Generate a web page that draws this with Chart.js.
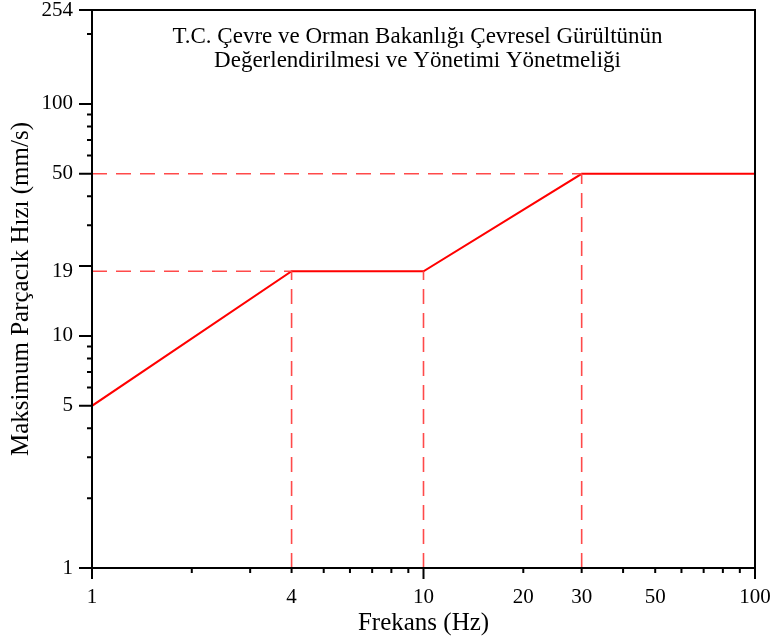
<!DOCTYPE html>
<html>
<head>
<meta charset="utf-8">
<script src="https://cdn.jsdelivr.net/npm/chart.js@4"></script>
<style>
  html, body { margin: 0; padding: 0; background: #fff; }
  canvas { display: block; }
</style>
</head>
<body>
<canvas id="chart" width="772" height="640"></canvas>
<script>
// limit curve (frequency in Hz, velocity in mm/s)
var freq = [1, 4, 10, 30, 100];
var velocity = [5, 19, 19, 50, 50];

// axis ticks
var xTickLabels = [1, 4, 10, 20, 30, 50, 100];
var yTickLabels = [1, 5, 10, 19, 50, 100, 254];
var xLongTicks = [1, 10, 100];
var xShortTicks = [2, 3, 4, 5, 6, 7, 8, 9, 20, 30, 40, 50, 60, 70, 80, 90];
var yLongTicks = [1, 5, 10, 20, 50, 100, 254];
var yShortTicks = [2, 3, 4, 6, 7, 8, 9, 30, 40, 60, 70, 80, 90, 200];

var titleLines = ["T.C. Çevre ve Orman Bakanlığı Çevresel Gürültünün",
                  "Değerlendirilmesi ve Yönetimi Yönetmeliği"];

var serif = "'Liberation Serif', 'Times New Roman', serif";

// dashed guides at the break points of the curve
var guides = [];
[1, 2, 3].forEach(function (i) {
  guides.push([{ x: freq[i], y: 1 }, { x: freq[i], y: velocity[i] }]);
});
[1, 3].forEach(function (i) {
  guides.push([{ x: 1, y: velocity[i] }, { x: freq[i], y: velocity[i] }]);
});

var datasets = guides.map(function (pts) {
  return {
    data: pts,
    borderColor: "#ff4a4a",
    borderWidth: 1.6,
    borderDash: [15, 9],
    pointRadius: 0,
    fill: false
  };
});
datasets.push({
  data: freq.map(function (f, i) { return { x: f, y: velocity[i] }; }),
  borderColor: "#ff0000",
  borderWidth: 2,
  pointRadius: 0,
  fill: false
});

var extras = {
  id: "extras",
  afterDraw: function (chart) {
    var ctx = chart.ctx;
    var a = chart.chartArea;
    var xs = chart.scales.x;
    var ys = chart.scales.y;
    ctx.save();
    ctx.strokeStyle = "#000";
    ctx.lineWidth = 2;
    ctx.strokeRect(a.left, a.top, a.right - a.left, a.bottom - a.top);
    ctx.beginPath();
    xLongTicks.forEach(function (v) {
      var px = xs.getPixelForValue(v);
      ctx.moveTo(px, a.bottom); ctx.lineTo(px, a.bottom + 11);
    });
    xShortTicks.forEach(function (v) {
      var px = xs.getPixelForValue(v);
      ctx.moveTo(px, a.bottom); ctx.lineTo(px, a.bottom + 5);
    });
    yLongTicks.forEach(function (v) {
      var py = ys.getPixelForValue(v);
      ctx.moveTo(a.left, py); ctx.lineTo(a.left - 13, py);
    });
    yShortTicks.forEach(function (v) {
      var py = ys.getPixelForValue(v);
      ctx.moveTo(a.left, py); ctx.lineTo(a.left - 5, py);
    });
    ctx.stroke();

    ctx.fillStyle = "#000";
    ctx.font = "23px " + serif;
    ctx.textAlign = "center";
    ctx.textBaseline = "alphabetic";
    var cx = (a.left + a.right) / 2 - 6;
    ctx.fillText(titleLines[0], cx, a.top + 33);
    ctx.fillText(titleLines[1], cx, a.top + 57);
    ctx.restore();
  }
};

var chart = new Chart(document.getElementById("chart"), {
  type: "line",
  data: { datasets: datasets },
  plugins: [extras],
  options: {
    responsive: false,
    animation: false,
    devicePixelRatio: 1,
    layout: { padding: { left: 0, top: 10, right: 17, bottom: 0 } },
    plugins: {
      legend: { display: false },
      tooltip: { enabled: false }
    },
    scales: {
      x: {
        type: "logarithmic",
        min: 1,
        max: 100,
        border: { display: false },
        grid: { drawOnChartArea: false, tickLength: 13, tickColor: "rgba(0,0,0,0)" },
        ticks: {
          color: "#000",
          padding: 4,
          maxRotation: 0,
          autoSkip: false,
          font: { family: serif, size: 21 },
          callback: function (v) { return String(v); }
        },
        afterBuildTicks: function (scale) {
          scale.ticks = xTickLabels.map(function (v) { return { value: v }; });
        },
        afterFit: function (scale) {
          scale.height = 72;
          scale.paddingLeft = 0;
          scale.paddingRight = 0;
        },
        title: {
          display: true,
          text: "Frekans (Hz)",
          color: "#000",
          font: { family: serif, size: 25 },
          padding: { top: 0, bottom: 2 }
        }
      },
      y: {
        type: "logarithmic",
        min: 1,
        max: 254,
        border: { display: false },
        grid: { drawOnChartArea: false, tickLength: 13, tickColor: "rgba(0,0,0,0)" },
        ticks: {
          color: "#000",
          padding: 6,
          autoSkip: false,
          font: { family: serif, size: 21 },
          callback: function (v) { return String(v); }
        },
        afterBuildTicks: function (scale) {
          scale.ticks = yTickLabels.map(function (v) { return { value: v }; });
        },
        afterFit: function (scale) {
          scale.width = 92;
          scale.paddingTop = 0;
          scale.paddingBottom = 0;
        },
        title: {
          display: true,
          text: "Maksimum Parçacık Hızı (mm/s)",
          color: "#000",
          font: { family: serif, size: 25 },
          padding: { top: 6, bottom: 0 }
        }
      }
    }
  }
});
</script>
</body>
</html>
